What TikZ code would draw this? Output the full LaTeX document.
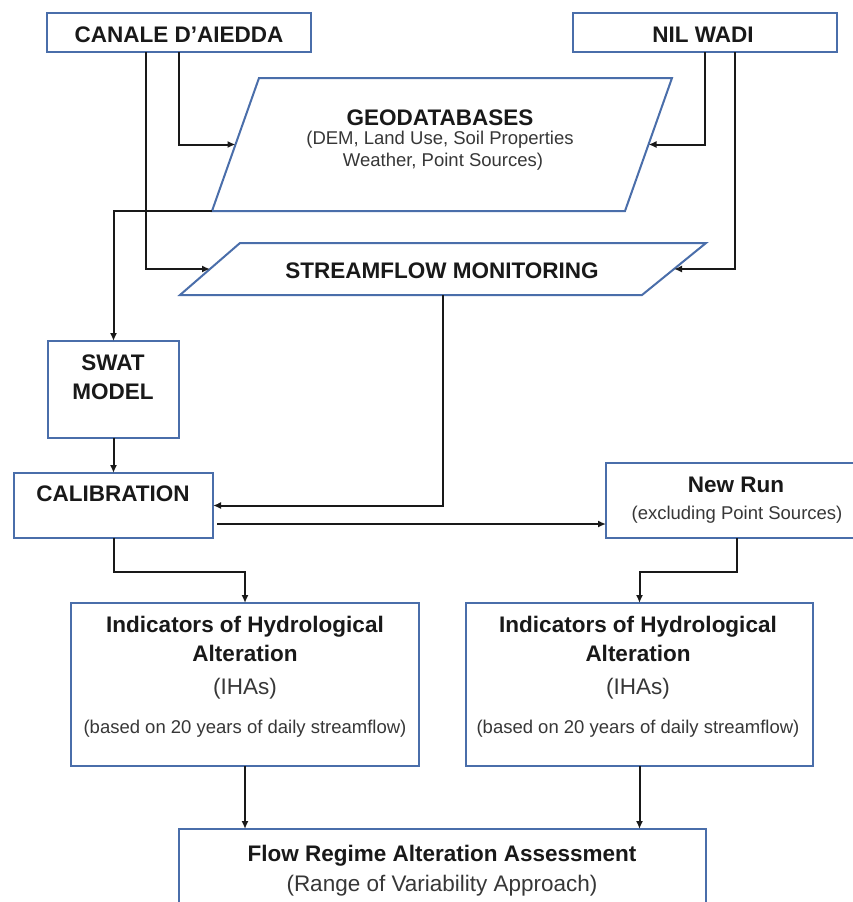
\documentclass[tikz,border=0pt]{standalone}
\usepackage{fontspec}
\setmainfont{Liberation Sans}
\usetikzlibrary{arrows.meta,calc}
\definecolor{bdr}{RGB}{74,110,170}
\definecolor{txt}{RGB}{25,25,25}
\definecolor{subc}{RGB}{55,55,55}
\begin{document}
\begin{tikzpicture}[x=1pt,y=-1pt,
  box/.style={draw=bdr,line width=2pt,fill=white,inner sep=0pt,outer sep=0pt},
  pbox/.style={draw=bdr,line width=2pt,fill=white},
  ttl/.style={font=\bfseries\fontsize{22.5}{27}\selectfont,text=txt,anchor=base,inner sep=0pt},
  sbs/.style={font=\fontsize{18.5}{22}\selectfont,text=subc,anchor=base,inner sep=0pt},
  sbl/.style={font=\fontsize{22.5}{27}\selectfont,text=subc,anchor=base,inner sep=0pt},
  arr/.style={draw=black!90,line width=2pt,-{Latex[length=8pt,width=7pt]}}]
\useasboundingbox (0,0) rectangle (853,902);
\fill[white] (0,0) rectangle (853,902);
\clip (0,0) rectangle (853,902);

% boxes
\node[box,minimum width=264pt,minimum height=39pt] (canale) at (179,32.5) {};
\node[box,minimum width=264pt,minimum height=39pt] (nil) at (705,32.5) {};
\node[box,minimum width=131pt,minimum height=97pt] (swat) at (113.5,389.5) {};
\node[box,minimum width=199pt,minimum height=65pt] (calib) at (113.5,505.5) {};
\node[box,minimum width=262pt,minimum height=75pt] (newrun) at (737,500.5) {};
\node[box,minimum width=348pt,minimum height=163pt] (iha1) at (245,684.5) {};
\node[box,minimum width=347pt,minimum height=163pt] (iha2) at (639.5,684.5) {};
\node[box,minimum width=527pt,minimum height=111pt] (flow) at (442.5,884.5) {};

% parallelograms
\coordinate (gTL) at (259,78); \coordinate (gTR) at (672,78);
\coordinate (gBR) at (625,211); \coordinate (gBL) at (212,211);
\coordinate (sTL) at (240,243); \coordinate (sTR) at (706,243);
\coordinate (sBR) at (642,295); \coordinate (sBL) at (180,295);
\draw[pbox] (gTL) -- (gTR) -- (gBR) -- (gBL) -- cycle;
\draw[pbox] (sTL) -- (sTR) -- (sBR) -- (sBL) -- cycle;
\coordinate (gL) at ($(gTL)!0.5!(gBL)$);
\coordinate (gR) at ($(gTR)!0.5!(gBR)$);
\coordinate (sL) at ($(sTL)!0.5!(sBL)$);
\coordinate (sR) at ($(sTR)!0.5!(sBR)$);
\coordinate (sB) at (443,295);

% texts
\node[ttl] (tcan) at (179,42) {CANALE D’AIEDDA};
\node[ttl] (tnil) at (703,42) {NIL WADI};
\node[ttl] (tgeo) at (440,125) {GEODATABASES};
\node[sbs] (tgeo2) at (440,144.5) {(DEM, Land Use, Soil Properties};
\node[sbs] (tgeo3) at (443,166.5) {Weather, Point Sources)};
\node[ttl] (tsf) at (442,278) {STREAMFLOW MONITORING};
\node[ttl] (tsw1) at (113,370) {SWAT};
\node[ttl] (tsw2) at (113,399) {MODEL};
\node[ttl] (tcal) at (113,501) {CALIBRATION};
\node[ttl] (tnr1) at (736,492) {New Run};
\node[sbs] (tnr2) at (737,519.5) {(excluding Point Sources)};
\node[ttl] (ta1) at (245,632) {Indicators of Hydrological};
\node[ttl] (ta2) at (245,661) {Alteration};
\node[sbl] (ta3) at (245,694) {(IHAs)};
\node[sbs] (ta4) at (245,733.5) {(based on 20 years of daily streamflow)};
\node[ttl] (tb1) at (638,632) {Indicators of Hydrological};
\node[ttl] (tb2) at (638,661) {Alteration};
\node[sbl] (tb3) at (638,694) {(IHAs)};
\node[sbs] (tb4) at (638,733.5) {(based on 20 years of daily streamflow)};
\node[ttl] (tf1) at (442,861) {Flow Regime Alteration Assessment};
\node[sbl] (tf2) at (442,891) {(Range of Variability Approach)};

% connectors
\draw[arr] (canale.south) |- (gL);
\draw[arr] ([xshift=-33pt]canale.south) |- (sL);
\draw[arr] (nil.south) |- (gR);
\draw[arr] ([xshift=30pt]nil.south) |- (sR);
\draw[arr] (gBL) -| (swat.north);
\draw[arr] (swat.south) -- (calib.north);
\draw[arr] (sB) |- (calib.east);
\coordinate (c2) at ([xshift=4pt,yshift=-18.5pt]calib.east);
\draw[arr] (c2) -- (c2 -| newrun.west);
\draw[arr] (calib.south) -- ++(0,34) -| (iha1.north);
\draw[arr] (newrun.south) -- ++(0,34) -| (iha2.north);
\draw[arr] (iha1.south) -- (iha1.south |- flow.north);
\draw[arr] (iha2.south) -- (iha2.south |- flow.north);
\end{tikzpicture}
\end{document}
